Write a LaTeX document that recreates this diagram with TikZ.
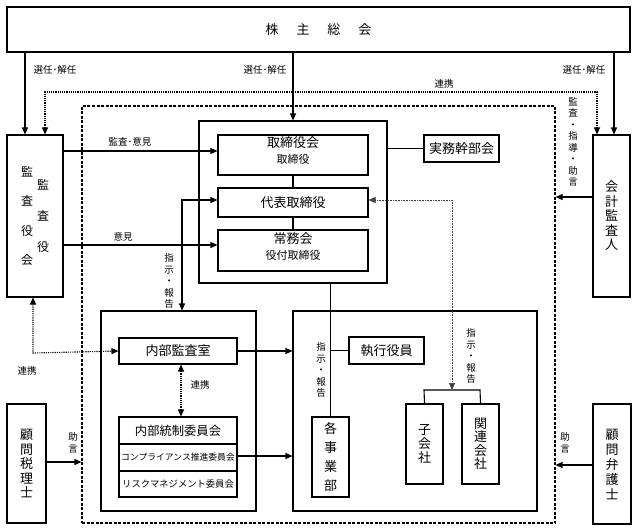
\documentclass[tikz,border=0pt]{standalone}
\usepackage{fontspec}
\setmainfont{Noto Sans CJK JP}
\usetikzlibrary{arrows.meta}
\begin{document}
\begin{tikzpicture}[x=1pt,y=-1pt,
  box/.style={draw,line width=1.1pt,inner sep=0pt,align=center,font=\fontsize{13}{16}\selectfont},
  lbl/.style={inner sep=0pt,font=\fontsize{9.5}{11.5}\selectfont,align=center},
  arr/.style={line width=1.1pt,-{Triangle[length=7pt,width=6pt]}},
  darr/.style={line width=1.1pt,{Triangle[length=7pt,width=6pt]}-{Triangle[length=7pt,width=6pt]}},
  dots/.style={line width=1.1pt,dash pattern=on 1.1pt off 1.1pt},
  fdots/.style={line width=0.6pt,dash pattern=on 0.8pt off 0.8pt,draw=black!75},
  ln/.style={line width=1.1pt}]
\useasboundingbox (0,0) rectangle (637,531);
\fill[white] (0,0) rectangle (637,531);
% dashed company box
\node[draw,line width=1.1pt,dash pattern=on 3pt off 1.5pt,minimum width=473pt,minimum height=417pt,inner sep=0pt] (db) at (318.5,314.5) {};
% general meeting
\node[box,minimum width=623pt,minimum height=45pt] (gm) at (318.5,29.5) {株\hspace{1.38em}主\hspace{1.38em}総\hspace{1.38em}会};
% left audit board
\node[box,minimum width=56pt,minimum height=162pt,font=\fontsize{12}{29.5}\selectfont] (ka) at (35,216)
  {\parbox[c]{1em}{\centering 監\\査\\役\\会}\hspace{4pt}\parbox[c]{1em}{\centering\fontsize{12}{31}\selectfont 監\\査\\役}};
% accounting auditor
\node[box,minimum width=37pt,minimum height=162pt,font=\fontsize{13}{14.5}\selectfont] (kk) at (611.5,216) {会\\計\\監\\査\\人};
% board outer
\node[draw,line width=1.1pt,minimum width=188pt,minimum height=162pt,inner sep=0pt] (ob) at (293,202) {};
\node[box,minimum width=150pt,minimum height=40pt] (tb) at (293,155)
  {{\fontsize{13}{19}\selectfont 取締役会}\\{\fontsize{11}{19}\selectfont 取締役\rule[-9pt]{0pt}{9pt}}};
\node[box,minimum width=150pt,minimum height=29pt] (dr) at (293,202.5) {代表取締役};
\node[box,minimum width=150pt,minimum height=41pt] (jm) at (293,250.5)
  {{\fontsize{13}{19}\selectfont 常務会}\\{\fontsize{11}{19}\selectfont 役付取締役\rule[-8pt]{0pt}{8pt}}};
\node[box,minimum width=75pt,minimum height=27pt] (jk) at (461.5,148.5) {実務幹部会};
% internal audit outer
\node[draw,line width=1.1pt,minimum width=155pt,minimum height=200pt,inner sep=0pt] (oa) at (178.5,411) {};
\node[box,minimum width=118pt,minimum height=26pt] (ia) at (178,351) {内部監査室};
\node[box,minimum width=118pt,minimum height=27pt,font=\fontsize{12.3}{14}\selectfont] (ic1) at (178,430.5) {内部統制委員会};
\node[box,minimum width=118pt,minimum height=27pt,font=\fontsize{8.8}{10}\selectfont] (ic2) at (178,457.5) {コンプライアンス推進委員会};
\node[box,minimum width=118pt,minimum height=26pt,font=\fontsize{9.3}{10}\selectfont] (ic3) at (178,484) {リスクマネジメント委員会};
% execution outer
\node[draw,line width=1.1pt,minimum width=244pt,minimum height=200pt,inner sep=0pt] (oe) at (415,411) {};
\node[box,minimum width=75pt,minimum height=27pt] (sy) at (386.5,350.5) {執行役員};
\node[box,minimum width=37pt,minimum height=80pt,font=\fontsize{13}{19}\selectfont] (jg) at (330.5,457) {各\\事\\業\\部};
\node[box,minimum width=37pt,minimum height=80pt,font=\fontsize{13}{14}\selectfont] (kg) at (424.5,444) {子\\会\\社};
\node[box,minimum width=37pt,minimum height=80pt,font=\fontsize{13}{13.5}\selectfont] (kr) at (480.5,444) {関\\連\\会\\社};
% advisors
\node[box,minimum width=39pt,minimum height=119pt,font=\fontsize{13}{14.5}\selectfont] (kz) at (26.5,463.5) {顧\\問\\税\\理\\士};
\node[box,minimum width=38pt,minimum height=120pt,font=\fontsize{13}{15}\selectfont] (kb) at (612,464) {顧\\問\\弁\\護\\士};
% labels
\node[lbl] (l1) at (55,70) {選任･解任};
\node[lbl] (l2) at (265,70) {選任･解任};
\node[lbl] (l3) at (584,70) {選任･解任};
\node[lbl] (l4) at (444,84) {連携};
\node[lbl] (l5) at (130,142) {監査･意見};
\node[lbl] (l6) at (123,237) {意見};
\node[lbl] (l7) at (169,281) {指\\示\\・\\報\\告};
\node[lbl] (l8) at (573,142) {監\\査\\・\\指\\導\\・\\助\\言};
\node[lbl] (l9) at (27,371) {連携};
\node[lbl] (l10) at (200,385) {連携};
\node[lbl] (l11) at (321,370) {指\\示\\・\\報\\告};
\node[lbl] (l12) at (471,356) {指\\示\\・\\報\\告};
\node[lbl] (l13) at (73,443) {助\\言};
\node[lbl] (l14) at (565,443) {助\\言};
% helper coordinates
\coordinate (c1) at (45,92);
\coordinate (c2) at (597,92);
\coordinate (c3) at (182,200);
\coordinate (c4) at (33,353);
\coordinate (c5) at (452,200);
\coordinate (c6) at (452,390);
\coordinate (c7) at (424,390);
\coordinate (c8) at (480,390);
% solid arrows
\draw[arr] (gm.south -| 25,0) -- (ka.north -| 25,0);
\draw[arr] (gm.south -| ob.north) -- (ob.north);
\draw[arr] (gm.south -| 614,0) -- (kk.north -| 614,0);
\draw[arr] (ka.east |- 0,151) -- (tb.west |- 0,151);
\draw[arr] (ka.east |- 0,245) -- (jm.west |- 0,245);
\draw[darr] (dr.west |- c3) -- (c3) -- (c3 |- oa.north);
\draw[arr] (kk.west |- 0,197) -- (db.east |- 0,197);
\draw[arr] (ia.east) -- (oe.west |- ia.east);
\draw[arr] (ic2.east |- 0,456) -- (oe.west |- 0,456);
\draw[arr] (kz.east |- 0,462) -- (db.west |- 0,462);
\draw[arr] (kb.west |- 0,465) -- (db.east |- 0,465);
% solid lines
\draw[ln] (tb.south) -- (dr.north);
\draw[ln] (dr.south) -- (jm.north);
\draw[ln] (ob.east |- jk.west) -- (jk.west);
\draw[ln] (ob.south -| jg.north) -- (jg.north);
\draw[ln] (jg.north |- sy.west) -- (sy.west);
\draw[ln] (kg.north) -- (c7) -- (c8) -- (kr.north);
% dotted connectors
\draw[dots,{Triangle[length=7pt,width=6pt]}-{Triangle[length=7pt,width=6pt]}] (ka.north -| c1) -- (c1) -- (c2) -- (kk.north -| c2);
\draw[dots,{Triangle[length=7pt,width=6pt]}-{Triangle[length=7pt,width=6pt]}] (ka.south -| c4) -- (c4) -- (ia.west);
\draw[dots,{Triangle[length=7pt,width=6pt]}-{Triangle[length=7pt,width=6pt]}] (ia.south -| 181,0) -- (ic1.north -| 181,0);
\draw[fdots,{Triangle[length=7pt,width=6pt]}-{Triangle[length=7pt,width=6pt]}] (dr.east |- c5) -- (c5) -- (c6);
\end{tikzpicture}
\end{document}
